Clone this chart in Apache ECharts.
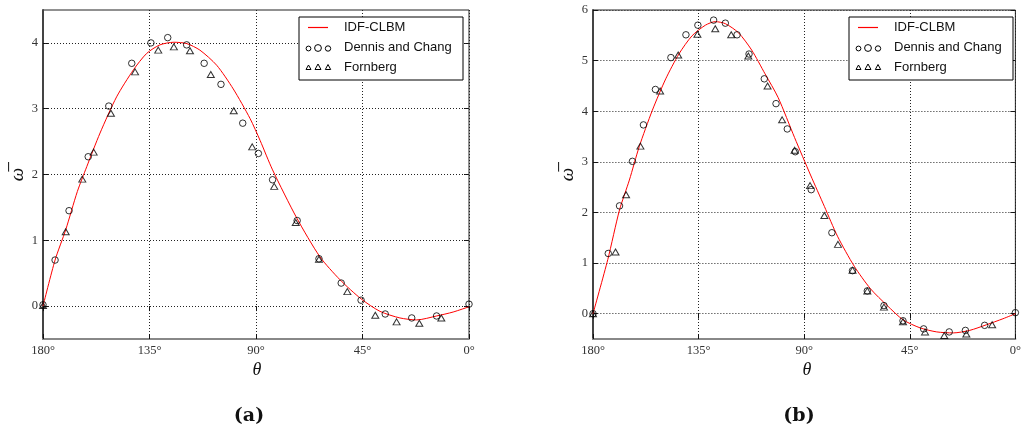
<!DOCTYPE html>
<html>
<head>
<meta charset="utf-8">
<script src="https://cdn.jsdelivr.net/npm/echarts@6/dist/echarts.min.js"></script>
<style>
  html, body { margin: 0; padding: 0; background: #fff; }
  #chart { width: 1024px; height: 437px; }
</style>
</head>
<body>
<div id="chart"></div>
<script>
// Angle ticks (degrees) and vorticity ticks for the two panels
const thetaTicks = [0, 45, 90, 135, 180];
const omegaTicksA = [0, 1, 2, 3, 4];
const omegaTicksB = [0, 1, 2, 3, 4, 5, 6];
const seriesNames = ['IDF-CLBM', 'Dennis and Chang', 'Fornberg'];
const panelTags = ['(a)', '(b)'];

// Panel (a): surface vorticity, [theta, omega]
const clbmA = [
  [180, 0.0], [174.9, 0.70], [170.4, 1.16], [165.5, 1.74], [161.5, 2.12],
  [155.9, 2.63], [148.9, 3.18], [141.8, 3.59], [136.2, 3.84], [130.6, 3.97],
  [124.7, 4.01], [119.3, 3.99], [113.7, 3.89], [106.6, 3.66], [99.6, 3.30],
  [92.5, 2.85], [88.3, 2.52], [83.0, 2.07], [72.8, 1.34],
  [63.0, 0.75], [54.5, 0.40], [45.6, 0.11], [37.6, -0.08], [29.2, -0.18],
  [22.1, -0.21], [13.7, -0.15], [6.7, -0.09], [0, -0.01]
];
const dennisA = [
  [180, 0.02], [174.9, 0.70], [169.0, 1.45], [160.9, 2.27], [152.2, 3.04],
  [142.5, 3.69], [134.4, 4.00], [127.3, 4.08], [119.3, 3.97], [111.9, 3.69],
  [104.8, 3.37], [95.6, 2.78], [89.0, 2.32], [83.0, 1.92], [72.6, 1.30],
  [63.4, 0.72], [54.0, 0.35], [45.6, 0.09], [35.4, -0.12], [24.2, -0.18],
  [13.7, -0.15], [0, 0.03]
];
const fornbergA = [
  [180, 0.01], [170.4, 1.13], [163.4, 1.93], [158.6, 2.34], [151.3, 2.93],
  [141.1, 3.56], [131.3, 3.89], [124.7, 3.94], [117.9, 3.88], [109.1, 3.52],
  [99.4, 2.97], [91.6, 2.42], [82.3, 1.82], [73.2, 1.27], [63.4, 0.71],
  [51.4, 0.22], [39.6, -0.14], [30.6, -0.24], [21.0, -0.26], [11.7, -0.18]
];

// Panel (b): surface vorticity, [theta, omega]
const clbmB = [
  [180, 0.0], [173.7, 1.07], [168.7, 2.05], [164.5, 2.64], [160.3, 3.30],
  [154.7, 4.02], [149.0, 4.64], [143.4, 5.13], [137.8, 5.49], [132.1, 5.70],
  [127.9, 5.77], [123.6, 5.73], [118.0, 5.55], [112.4, 5.21], [106.7, 4.74],
  [101.1, 4.27], [94.1, 3.48], [87.3, 2.74], [81.4, 2.12], [75.8, 1.53],
  [68.7, 0.94], [61.7, 0.49], [54.6, 0.16], [47.9, -0.12], [40.6, -0.28],
  [33.5, -0.36], [26.5, -0.38], [19.5, -0.33], [12.4, -0.22], [5.3, -0.10],
  [0, 0.0]
];
const dennisB = [
  [180, 0.0], [173.5, 1.19], [168.7, 2.13], [163.2, 3.01], [158.5, 3.73],
  [153.4, 4.43], [146.8, 5.06], [140.4, 5.51], [135.3, 5.70], [128.6, 5.80],
  [123.6, 5.74], [118.6, 5.51], [113.5, 5.13], [107.0, 4.64], [102.0, 4.15],
  [97.2, 3.65], [93.8, 3.20], [87.0, 2.45], [78.2, 1.60], [69.4, 0.85],
  [63.1, 0.45], [56.0, 0.16], [47.9, -0.14], [39.1, -0.30], [28.2, -0.36],
  [21.3, -0.33], [13.1, -0.23], [0, 0.02]
];
const fornbergB = [
  [180, 0.0], [170.4, 1.22], [165.9, 2.35], [159.8, 3.31], [151.4, 4.40],
  [143.7, 5.11], [135.5, 5.52], [127.9, 5.63], [121.1, 5.51], [113.8, 5.09],
  [105.6, 4.50], [99.4, 3.83], [94.1, 3.23], [87.5, 2.53], [81.4, 1.94],
  [75.6, 1.37], [69.4, 0.86], [63.1, 0.45], [56.0, 0.13], [47.9, -0.16],
  [38.5, -0.36], [30.3, -0.43], [20.9, -0.40], [9.9, -0.22]
];

const chart = echarts.init(document.getElementById('chart'), null, { renderer: 'canvas' });

const SERIF = '"Liberation Serif", "DejaVu Serif", serif';
const SANS = '"Liberation Sans", Arial, sans-serif';
const panels = [
  { left: 43, top: 10, width: 426, height: 329, yMin: -0.5, yMax: 4.5, ticks: omegaTicksA,
    line: clbmA, circles: dennisA, tris: fornbergA },
  { left: 593, top: 10, width: 426, height: 329, yMin: -0.5, yMax: 6, ticks: omegaTicksB,
    line: clbmB, circles: dennisB, tris: fornbergB }
];

const grid = [], xAxis = [], yAxis = [], series = [], graphic = [];

panels.forEach((p, i) => {
  grid.push({ left: p.left, top: p.top, width: p.width, height: p.height,
    show: true, borderColor: '#222', borderWidth: 1, backgroundColor: '#fff' });

  // bottom angle axis (180° on the left)
  xAxis.push({
    type: 'value', gridIndex: i, min: 0, max: 180, interval: 45, inverse: true,
    position: 'bottom',
    axisLine: { show: true, onZero: false, lineStyle: { color: '#888', width: 2 } },
    axisTick: { show: true, inside: true, length: 5, lineStyle: { color: '#111' } },
    axisLabel: { show: true, formatter: v => v + '°', margin: 5,
      fontFamily: SERIF, fontSize: 12.5, color: '#333' },
    splitLine: { show: true, lineStyle: { color: '#222', type: [1, 2], width: 1 } }
  });
  // top mirror axis for ticks only
  xAxis.push({
    type: 'value', gridIndex: i, min: 0, max: 180, interval: 45, inverse: true,
    position: 'top',
    axisLine: { show: false },
    axisTick: { show: true, inside: true, length: 5, lineStyle: { color: '#111' } },
    axisLabel: { show: false }, splitLine: { show: false }
  });

  yAxis.push({
    type: 'value', gridIndex: i, min: p.yMin, max: p.yMax, position: 'left',
    axisLine: { show: true, onZero: false, lineStyle: { color: '#444', width: 2 } },
    axisTick: { show: true, inside: true, length: 5, customValues: p.ticks,
      lineStyle: { color: '#111' } },
    axisLabel: { show: true, customValues: p.ticks, margin: 5,
      fontFamily: SERIF, fontSize: 12.5, color: '#333' },
    splitLine: { show: false }
  });
  yAxis.push({
    type: 'value', gridIndex: i, min: p.yMin, max: p.yMax, position: 'right',
    axisLine: { show: false },
    axisTick: { show: true, inside: true, length: 5, customValues: p.ticks,
      lineStyle: { color: '#111' } },
    axisLabel: { show: false }, splitLine: { show: false }
  });

  const xi = i * 2, yi = i * 2;

  series.push({
    name: seriesNames[0], type: 'line', xAxisIndex: xi, yAxisIndex: yi,
    data: p.line, smooth: 0.25, showSymbol: false, symbol: 'none',
    lineStyle: { color: '#ff0000', width: 1 }, z: 3, animation: false,
    markLine: {
      silent: true, symbol: 'none', animation: false, z: 1,
      label: { show: false },
      lineStyle: { color: '#222', type: [1, 2], width: 1 },
      data: p.ticks.map(t => ({ yAxis: t }))
    }
  });
  series.push({
    name: seriesNames[1], type: 'scatter', xAxisIndex: xi, yAxisIndex: yi,
    data: p.circles, symbol: 'circle', symbolSize: 6.5,
    itemStyle: { color: 'rgba(0,0,0,0)', borderColor: '#000', borderWidth: 1 },
    z: 4, animation: false
  });
  series.push({
    name: seriesNames[2], type: 'scatter', xAxisIndex: xi, yAxisIndex: yi,
    data: p.tris, symbol: 'triangle', symbolSize: [7, 6],
    itemStyle: { color: 'rgba(0,0,0,0)', borderColor: '#000', borderWidth: 1 },
    z: 4, animation: false
  });

  // axis titles and panel tag
  const cx = p.left + p.width / 2;
  graphic.push({
    type: 'text', x: p.left - 25, y: p.top + p.height / 2, rotation: Math.PI / 2,
    style: { text: 'ω\u0305', fontFamily: SERIF, fontStyle: 'italic', fontSize: 19,
      fill: '#111', align: 'center', verticalAlign: 'middle' }
  });
  graphic.push({
    type: 'text', x: cx + 1, y: 370,
    style: { text: 'θ', fontFamily: SERIF, fontStyle: 'italic', fontSize: 18,
      fill: '#111', align: 'center', verticalAlign: 'middle' }
  });
  graphic.push({
    type: 'text', x: cx - 7, y: 416,
    style: { text: panelTags[i], fontFamily: '"DejaVu Serif", serif', fontWeight: 'bold',
      fontSize: 19, fill: '#111', align: 'center', verticalAlign: 'middle' }
  });

  // legend box
  const lx = p.left + p.width - 170, ly = p.top + 7;
  const Z = 200;
  const children = [
    { type: 'rect', z: Z, shape: { x: 0, y: 0, width: 164, height: 63 },
      style: { fill: '#fff', stroke: '#000', lineWidth: 1 } },
    { type: 'line', z: Z + 1, shape: { x1: 9, y1: 10.5, x2: 29, y2: 10.5 },
      style: { stroke: '#ff0000', lineWidth: 1.2 } },
    { type: 'circle', z: Z + 1, shape: { cx: 9.5, cy: 31.5, r: 2.4 },
      style: { fill: 'none', stroke: '#000', lineWidth: 1 } },
    { type: 'circle', z: Z + 1, shape: { cx: 19, cy: 31, r: 3.4 },
      style: { fill: 'none', stroke: '#000', lineWidth: 1 } },
    { type: 'circle', z: Z + 1, shape: { cx: 29, cy: 31.5, r: 2.7 },
      style: { fill: 'none', stroke: '#000', lineWidth: 1 } },
    { type: 'polygon', z: Z + 1, shape: { points: [[9.5, 48], [7, 52.5], [12, 52.5]] },
      style: { fill: 'none', stroke: '#000', lineWidth: 1 } },
    { type: 'polygon', z: Z + 1, shape: { points: [[19, 47], [16, 52.5], [22, 52.5]] },
      style: { fill: 'none', stroke: '#000', lineWidth: 1 } },
    { type: 'polygon', z: Z + 1, shape: { points: [[29, 47.5], [26.3, 52.5], [31.7, 52.5]] },
      style: { fill: 'none', stroke: '#000', lineWidth: 1 } }
  ];
  seriesNames.forEach((n, k) => {
    children.push({ type: 'text', z: Z + 1, x: 45, y: 10.5 + k * 20,
      style: { text: n, fontFamily: SANS, fontSize: 13, fill: '#111',
        align: 'left', verticalAlign: 'middle' } });
  });
  graphic.push({ type: 'group', x: lx, y: ly, children });
});

chart.setOption({
  backgroundColor: '#fff',
  animation: false,
  grid, xAxis, yAxis, series, graphic
});
</script>
</body>
</html>
